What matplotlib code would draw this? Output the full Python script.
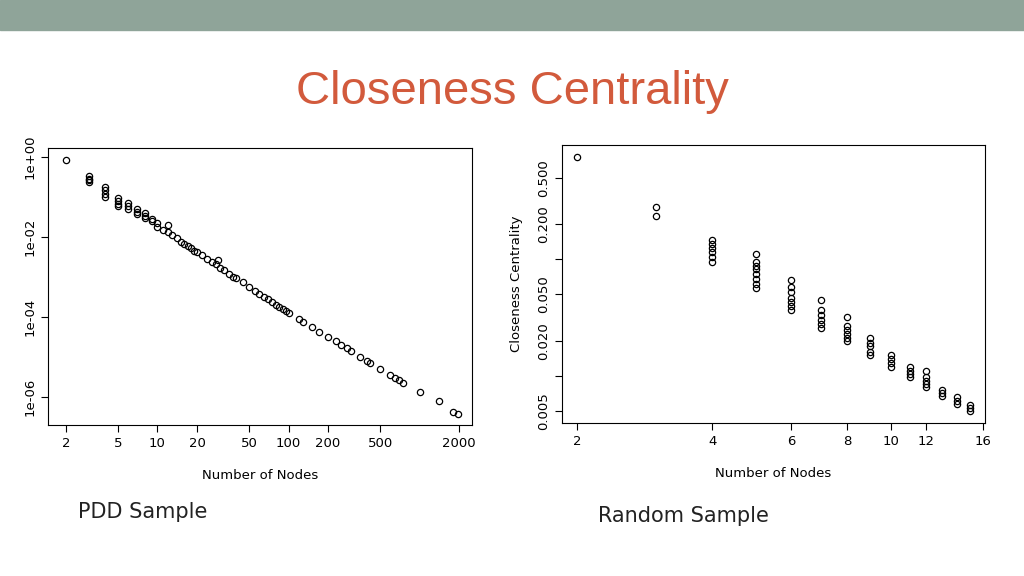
import matplotlib
matplotlib.use("Agg")
import matplotlib.pyplot as plt
from matplotlib.ticker import FixedLocator, FixedFormatter, NullLocator

# ---- PDD sample (left) ----
pdd_nodes = [2,
             3, 3, 3, 3,
             4, 4, 4, 4,
             5, 5, 5, 5,
             6, 6, 6,
             7, 7, 7,
             8, 8, 8,
             9, 9,
             10, 10, 11, 12, 12, 13, 14, 15, 16, 17, 18, 19, 20, 22, 24, 26, 28, 29,
             30, 32, 35, 38, 40, 45, 50, 55, 60, 65, 70, 75, 80, 85, 90, 95, 100,
             120, 130, 150, 170, 200, 230, 250, 280, 300, 350, 400, 420, 500, 600,
             650, 700, 750, 1000, 1400, 1800, 1950]
pdd_close = [0.84,
             0.33, 0.29, 0.26, 0.24,
             0.18, 0.15, 0.12, 0.10,
             0.094, 0.08, 0.067, 0.06,
             0.07, 0.06, 0.05,
             0.05, 0.043, 0.037,
             0.04, 0.034, 0.03,
             0.028, 0.025,
             1.8e-2, 2.2e-2, 1.5e-2, 1.3e-2, 2.0e-2, 1.1e-2, 9.5e-3, 7.6e-3, 6.8e-3, 5.9e-3,
             5.2e-3, 4.6e-3, 4.2e-3, 3.5e-3, 2.9e-3, 2.4e-3, 2.1e-3, 2.7e-3,
             1.7e-3, 1.5e-3, 1.2e-3, 1.0e-3, 9.3e-4, 7.4e-4, 5.6e-4, 4.6e-4, 3.7e-4,
             3.2e-4, 2.8e-4, 2.4e-4, 2.0e-4, 1.8e-4, 1.6e-4, 1.4e-4, 1.26e-4,
             8.9e-5, 7.4e-5, 5.6e-5, 4.3e-5, 3.2e-5, 2.5e-5, 2.0e-5, 1.7e-5, 1.4e-5,
             1.0e-5, 7.9e-6, 7.2e-6, 5.0e-6, 3.5e-6, 3.0e-6, 2.6e-6, 2.3e-6, 1.3e-6,
             7.9e-7, 4.2e-7, 3.7e-7]

# ---- Random sample (right) ----
rnd_nodes = [2,
             3, 3,
             4, 4, 4, 4, 4, 4,
             5, 5, 5, 5, 5, 5, 5, 5,
             6, 6, 6, 6, 6, 6, 6,
             7, 7, 7, 7, 7, 7,
             8, 8, 8, 8, 8, 8,
             9, 9, 9, 9, 9,
             10, 10, 10, 10,
             11, 11, 11, 11,
             12, 12, 12, 12, 12,
             13, 13, 13,
             14, 14, 14,
             15, 15, 15]
rnd_close = [0.76,
             0.28, 0.235,
             0.147, 0.135, 0.125, 0.115, 0.105, 0.095,
             0.111, 0.095, 0.088, 0.082, 0.075, 0.068, 0.062, 0.057,
             0.067, 0.058, 0.052, 0.047, 0.043, 0.040, 0.037,
             0.045, 0.037, 0.033, 0.030, 0.028, 0.026,
             0.032, 0.027, 0.025, 0.023, 0.021, 0.020,
             0.021, 0.019, 0.018, 0.016, 0.015,
             0.015, 0.014, 0.013, 0.012,
             0.012, 0.011, 0.0103, 0.0097,
             0.011, 0.0097, 0.009, 0.0085, 0.008,
             0.0075, 0.0071, 0.0067,
             0.0066, 0.0061, 0.0057,
             0.0056, 0.0053, 0.005]

pdd_xticks = [2, 5, 10, 20, 50, 100, 200, 500, 2000]
pdd_yticks = [1e0, 1e-2, 1e-4, 1e-6]
pdd_ylabels = ["1e+00", "1e-02", "1e-04", "1e-06"]
rnd_xticks = [2, 4, 6, 8, 10, 12, 16]
rnd_yticks = [0.5, 0.2, 0.1, 0.05, 0.02, 0.01, 0.005]
rnd_ylabels = ["0.500", "0.200", "", "0.050", "0.020", "", "0.005"]

fig = plt.figure(figsize=(10.24, 5.76), dpi=100)
fig.patch.set_facecolor("white")
fig.add_artist(plt.Rectangle((0, 1 - 30/576), 1, 30/576, transform=fig.transFigure,
                             color="#8fa499", zorder=0))
fig.text(0.5, 1 - 92/576, "Closeness Centrality", ha="center", va="center",
         fontsize=34, color="#d25a3c", family="Liberation Sans")

def style(ax):
    ax.set_xscale("log"); ax.set_yscale("log")
    ax.xaxis.set_minor_locator(NullLocator()); ax.yaxis.set_minor_locator(NullLocator())
    ax.tick_params(labelsize=9.5, length=5, width=0.8)
    for s in ax.spines.values():
        s.set_linewidth(0.8)

axL = fig.add_axes([48/1024, 1 - 425/576, 424/1024, 277/576])
axL.plot(pdd_nodes, pdd_close, "o", mfc="none", mec="black", ms=4.5, mew=0.9)
style(axL)
axL.set_xlim(1.46, 2513); axL.set_ylim(2e-7, 1.68)
axL.xaxis.set_major_locator(FixedLocator(pdd_xticks))
axL.xaxis.set_major_formatter(FixedFormatter([str(t) for t in pdd_xticks]))
axL.yaxis.set_major_locator(FixedLocator(pdd_yticks))
axL.yaxis.set_major_formatter(FixedFormatter(pdd_ylabels))
for t in axL.get_yticklabels():
    t.set_rotation(90); t.set_va("center")
axL.set_xlabel("Number of Nodes", fontsize=9.5, labelpad=14)

axR = fig.add_axes([562/1024, 1 - 423/576, 423/1024, 278/576])
axR.plot(rnd_nodes, rnd_close, "o", mfc="none", mec="black", ms=4.5, mew=0.9)
style(axR)
axR.set_xlim(1.85, 16.2); axR.set_ylim(0.00394, 0.96)
axR.xaxis.set_major_locator(FixedLocator(rnd_xticks))
axR.xaxis.set_major_formatter(FixedFormatter([str(t) for t in rnd_xticks]))
axR.yaxis.set_major_locator(FixedLocator(rnd_yticks))
axR.yaxis.set_major_formatter(FixedFormatter(rnd_ylabels))
for t in axR.get_yticklabels():
    t.set_rotation(90); t.set_va("center")
axR.set_xlabel("Number of Nodes", fontsize=9.5, labelpad=14)
axR.set_ylabel("Closeness Centrality", fontsize=9.5, labelpad=10)

fig.text(78/1024, 1 - 512/576, "PDD Sample", fontsize=15, va="center", color="#222222")
fig.text(598/1024, 1 - 516/576, "Random Sample", fontsize=15, va="center", color="#222222")

fig.savefig("out.png", dpi=100)
